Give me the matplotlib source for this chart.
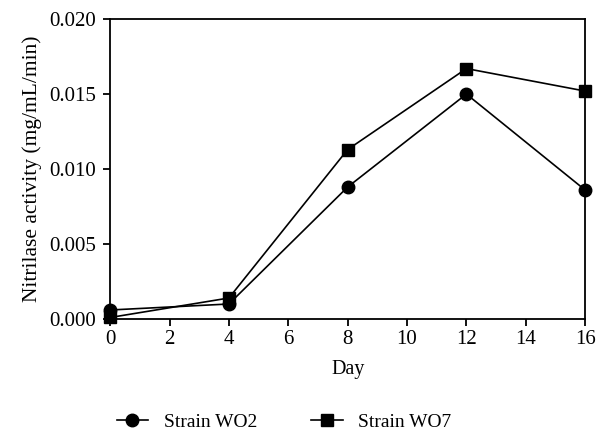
import matplotlib
matplotlib.use("Agg")
import matplotlib.pyplot as plt

days = [0, 4, 8, 12, 16]
wo2 = [0.0006, 0.0010, 0.0088, 0.0150, 0.0086]
wo7 = [0.0001, 0.0014, 0.0113, 0.0167, 0.0152]

plt.rcParams['font.family'] = ['Liberation Serif', 'DejaVu Serif']

fig = plt.figure(figsize=(6.02, 4.34), dpi=100)
ax = fig.add_axes([0.183, 0.265, 0.789, 0.691])

ax.plot(days, wo2, color="black", marker="o", markersize=9, linewidth=1.2,
        label="Strain WO2", clip_on=False, zorder=3)
ax.plot(days, wo7, color="black", marker="s", markersize=8.5, linewidth=1.2,
        label="Strain WO7", clip_on=False, zorder=3)

ax.set_xlim(0, 16)
ax.set_ylim(0, 0.020)
ax.set_xticks(range(0, 17, 2))
ax.set_yticks([0.000, 0.005, 0.010, 0.015, 0.020])
ax.set_yticklabels(["0.000", "0.005", "0.010", "0.015", "0.020"])
ax.set_xlabel("Day", fontsize=14.5, labelpad=8)
ax.set_ylabel("Nitrilase activity (mg/mL/min)", fontsize=15.5, labelpad=5)

for s in ax.spines.values():
    s.set_linewidth(1.3)
ax.tick_params(direction="out", length=5, width=1.3, labelsize=15)
ax.tick_params(axis="x", pad=3)
ax.tick_params(axis="y", pad=5)

fig.legend(loc="center", bbox_to_anchor=(0.472, 0.028), ncol=2, frameon=False,
           fontsize=14, handlelength=1.6, columnspacing=2.8, handletextpad=0.8)

fig.savefig("out.png", dpi=100)
